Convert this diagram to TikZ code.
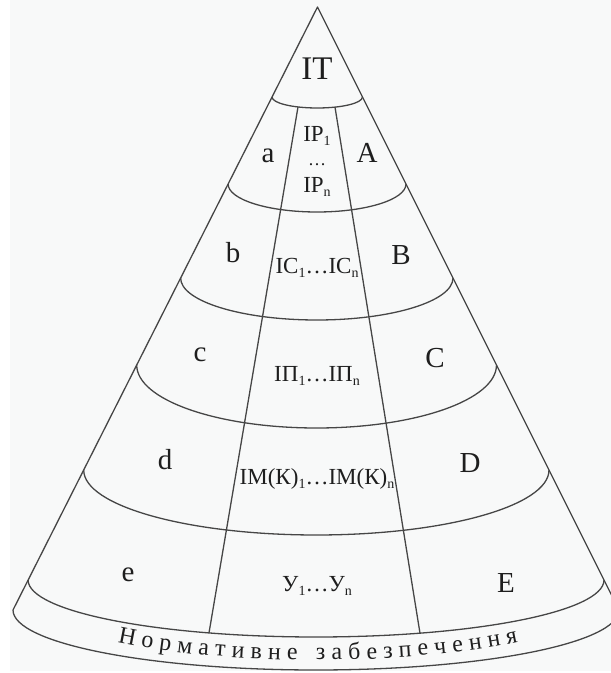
\documentclass[tikz,border=0pt]{standalone}
\usepackage{fontspec}
\setmainfont{Liberation Serif}
\usetikzlibrary{decorations.text}
\definecolor{ln}{RGB}{70,70,70}
\definecolor{txt}{RGB}{30,30,30}
\definecolor{bgc}{RGB}{248,249,249}
\newcommand\sbs[1]{\raisebox{-3.5pt}{\fontsize{14}{14}\selectfont #1}}
\begin{document}
\begin{tikzpicture}[x=1pt,y=1pt,
  cone/.style={draw=ln, line width=1.3pt, line join=round},
  side/.style={font=\fontsize{29}{29}\selectfont, text=txt, anchor=base, inner sep=0pt},
  mid/.style={font=\fontsize{23}{23}\selectfont, text=txt, anchor=base, inner sep=0pt},
  topl/.style={font=\fontsize{33}{33}\selectfont, text=txt, anchor=base, inner sep=0pt}]
\useasboundingbox (0,0) rectangle (611,673);
\clip (0,0) rectangle (611,673);
\fill[white] (0,0) rectangle (611,673);
\fill[bgc] (10,2) rectangle (611,673);
% apex and junctions
\coordinate (apex) at (317.5,666);
\coordinate (L1) at (272.05,576);
\coordinate (L2) at (228.1,489);
\coordinate (L3) at (180.6,395);
\coordinate (L4) at (136.7,308);
\coordinate (L5) at (83.7,203);
\coordinate (L6) at (28.1,93);
\coordinate (L7) at (13,63);
\coordinate (R7) at (619,63);
% divider ends
\coordinate (DLt) at (298,566);
\coordinate (DLb) at (209,40.1);
\coordinate (DRt) at (335,565.9);
\coordinate (DRb) at (420,39.8);
% cone outline
\draw[cone] (L7) -- (apex) -- (R7);
\draw[cone] (L7) arc[start angle=180, end angle=360, x radius=303pt, y radius=60pt];
% layer boundaries
\draw[cone] (L1) arc[start angle=180, end angle=360, x radius=45.2pt, y radius=11pt];
\draw[cone] (L2) arc[start angle=180, end angle=360, x radius=88.95pt, y radius=28pt];
\draw[cone] (L3) arc[start angle=180, end angle=360, x radius=136.2pt, y radius=42pt];
\draw[cone] (L4) arc[start angle=180, end angle=360, x radius=179.9pt, y radius=63pt];
\draw[cone] (L5) arc[start angle=180, end angle=360, x radius=232.65pt, y radius=65pt];
\draw[cone] (L6) arc[start angle=180, end angle=360, x radius=287.95pt, y radius=57pt];
% dividers
\draw[cone] (DLt) -- (DLb);
\draw[cone] (DRt) -- (DRb);
% labels
\node[topl] (it) at (317,593) {IT};
\node[side] (la) at (268,510) {a};
\node[side] (lA) at (367,510) {A};
\node[mid] (ip1) at (317,531) {IP\sbs{1}};
\node[mid, font=\fontsize{18}{18}\selectfont] (ipd) at (317,507) {…};
\node[mid] (ipn) at (317,480) {IP\sbs{n}};
\node[side] (lb) at (233,410) {b};
\node[side] (lB) at (401,408) {B};
\node[mid] (ic) at (317,399) {IC\sbs{1}…IC\sbs{n}};
\node[side] (lc) at (200,311) {c};
\node[side] (lC) at (435,305) {C};
\node[mid] (ipp) at (317,291) {IП\sbs{1}…IП\sbs{n}};
\node[side] (ld) at (165,203) {d};
\node[side] (lD) at (470,200) {D};
\node[mid] (imk) at (317,188) {IM(К)\sbs{1}…IM(К)\sbs{n}};
\node[side] (le) at (128,91) {e};
\node[side] (lE) at (506,80) {E};
\node[mid] (uu) at (317,81) {У\sbs{1}…У\sbs{n}};
% curved bottom text
\path[decorate, decoration={text along path,
  text={|\fontsize{24}{24}\selectfont\color{txt}|Нормативне забезпечення},
  text align=fit to path}]
  (117.6,30.6) arc[start angle=225, end angle=315.5, x radius=282pt, y radius=60pt];
\end{tikzpicture}
\end{document}
